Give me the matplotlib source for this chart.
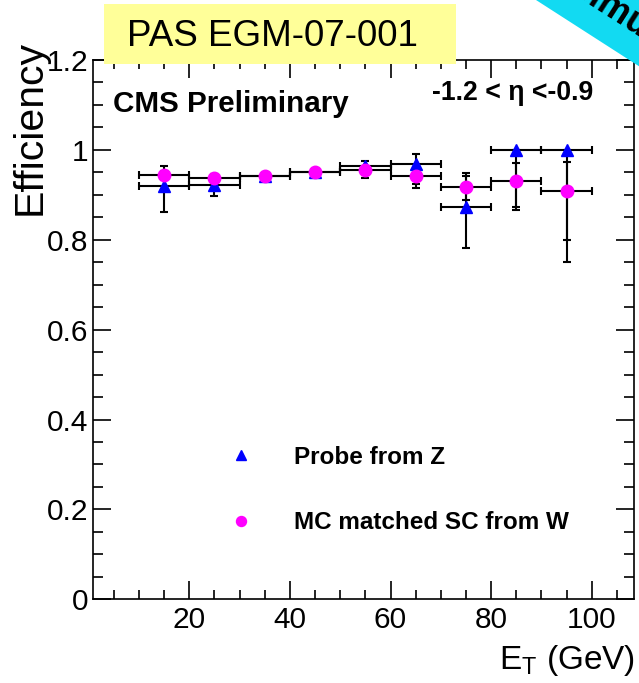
import matplotlib
matplotlib.use("Agg")
import matplotlib.pyplot as plt
from matplotlib.patches import Polygon, Rectangle
from matplotlib.ticker import MultipleLocator, FixedLocator, FuncFormatter

plt.rcParams['font.family'] = ['Liberation Sans', 'DejaVu Sans']
plt.rcParams['mathtext.default'] = 'regular'

# E_T bins (GeV): centres and half widths
et_centers = [15, 25, 35, 45, 55, 65, 75, 85, 95]
et_halfwidth = [5, 5, 5, 5, 5, 5, 5, 5, 5]

# Tag-and-probe efficiency with probes from Z
z_eff = [0.920, 0.922, 0.943, 0.951, 0.965, 0.969, 0.873, 1.000, 1.000]
z_err_lo = [0.058, 0.024, 0.005, 0.004, 0.027, 0.046, 0.092, 0.128, 0.249]
z_err_hi = [0.044, 0.020, 0.005, 0.004, 0.010, 0.021, 0.076, 0.000, 0.000]

# MC truth-matched supercluster efficiency from W
w_eff = [0.944, 0.938, 0.942, 0.951, 0.955, 0.942, 0.918, 0.931, 0.909]
w_err_lo = [0.010, 0.008, 0.005, 0.004, 0.010, 0.027, 0.030, 0.065, 0.109]
w_err_hi = [0.010, 0.008, 0.005, 0.004, 0.010, 0.020, 0.025, 0.039, 0.063]

y_ticks = [0, 0.2, 0.4, 0.6, 0.8, 1.0, 1.2]
x_ticks = [20, 40, 60, 80, 100]

W, H = 639, 683
fig = plt.figure(figsize=(W / 100, H / 100), dpi=100)
ax = fig.add_axes([92.7 / W, (H - 599.3) / H, 541.3 / W, 539.3 / H])

err_kw = dict(fmt='none', ecolor='black', elinewidth=1.5, capsize=2.7, capthick=1.5)
ax.errorbar(et_centers, z_eff, yerr=[z_err_lo, z_err_hi], xerr=et_halfwidth, zorder=2, **err_kw)
ax.errorbar(et_centers, w_eff, yerr=[w_err_lo, w_err_hi], xerr=et_halfwidth, zorder=2, **err_kw)
z_line, = ax.plot(et_centers, z_eff, ls='none', marker='^', ms=8.5, color='#0000ff',
                  mec='#0000ff', zorder=3)
w_line, = ax.plot(et_centers, w_eff, ls='none', marker='o', ms=9, color='#ff00ff',
                  mec='#ff00ff', zorder=4)

ax.set_xlim(0.8, 108.4)
ax.set_ylim(0, 1.2)

ax.xaxis.set_major_locator(FixedLocator(x_ticks))
ax.xaxis.set_minor_locator(MultipleLocator(5))
ax.yaxis.set_major_locator(FixedLocator(y_ticks))
ax.yaxis.set_minor_locator(MultipleLocator(0.05))
ax.yaxis.set_major_formatter(FuncFormatter(lambda v, p: '%g' % v))

for s in ax.spines.values():
    s.set_linewidth(1.2)
ax.tick_params(axis='both', which='both', direction='in', top=True, right=True,
               width=1.2, colors='black')
ax.tick_params(axis='x', which='major', length=13, pad=5, labelsize=21.5)
ax.tick_params(axis='x', which='minor', length=6.5)
ax.tick_params(axis='y', which='major', length=13, pad=3, labelsize=21.5)
ax.tick_params(axis='y', which='minor', length=7)

ax.set_ylabel('Efficiency', fontsize=29.5, ha='right', va='baseline')
ax.yaxis.set_label_coords((41 - 92.7) / 541.3, (599.3 - 40) / 539.3)
ax.set_xlabel('$E_T$ (GeV)', fontsize=24, ha='right', va='baseline')
ax.xaxis.set_label_coords((635 - 92.7) / 541.3, (599.3 - 669) / 539.3)

ax.text((113 - 92.7) / 541.3, (599.3 - 112) / 539.3, 'CMS Preliminary',
        transform=ax.transAxes, fontsize=21.3, fontweight='bold', ha='left', va='baseline')
ax.text((593 - 92.7) / 541.3, (599.3 - 100) / 539.3, '-1.2 < \u03b7 <-0.9',
        transform=ax.transAxes, fontsize=19.2, fontweight='bold', ha='right', va='baseline')

ax.legend([z_line, w_line], ['Probe from Z', 'MC matched SC from W'],
          loc='upper left', bbox_to_anchor=(216.7 / W, 1 - 446 / H),
          bbox_transform=fig.transFigure, frameon=False,
          prop={'size': 17.5, 'weight': 'bold'}, handlelength=2.0,
          handletextpad=1.18, labelspacing=1.73, borderpad=0, borderaxespad=0,
          markerscale=0.8, numpoints=1)

# document tag box
fig.patches.append(Rectangle((104 / W, 1 - 64 / H), 352 / W, 60 / H,
                             transform=fig.transFigure, facecolor='#ffff99',
                             edgecolor='none', zorder=10))
fig.text(272 / W, 1 - 37 / H, 'PAS EGM-07-001', fontsize=26.5, ha='center',
         va='center', zorder=11)

# diagonal corner banner
def px(x, y):
    return (x / W, 1 - y / H)

banner = Polygon([px(536, 0), px(800, 169.8), px(800, -200), px(225, -200)],
                 closed=True, transform=fig.transFigure, facecolor='#12daf2',
                 edgecolor='none', zorder=10)
fig.patches.append(banner)
fig.text(650 / W, 1 - 33 / H, 'Simulation', fontsize=26, fontweight='bold',
         rotation=-32.7, rotation_mode='anchor', ha='center', va='center', zorder=11)

fig.savefig('out.png', dpi=100)
